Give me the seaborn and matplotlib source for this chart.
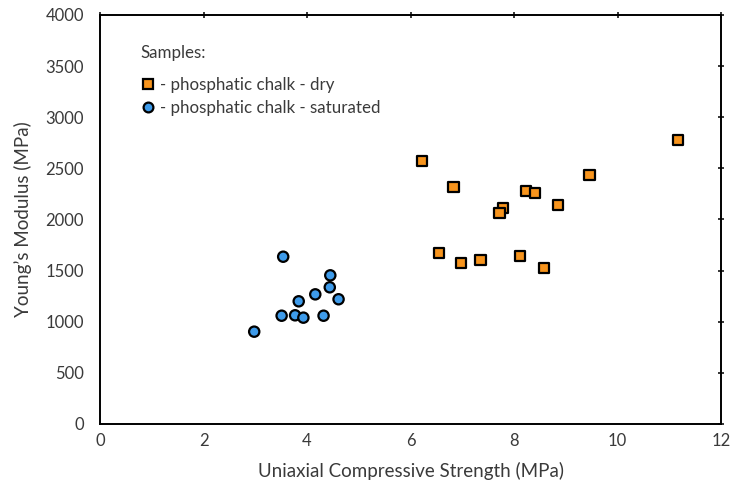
import numpy as np
import pandas as pd
import matplotlib
matplotlib.use("Agg")
import matplotlib.pyplot as plt
import seaborn as sns

# values
dry_ucs = [6.22, 6.83, 11.17, 9.46, 8.23, 8.40, 8.85, 7.79, 7.72, 6.55, 6.98, 7.35, 8.12, 8.58]
dry_e = [2569, 2318, 2777, 2432, 2279, 2256, 2139, 2112, 2066, 1669, 1575, 1601, 1646, 1526]
sat_ucs = [3.54, 4.45, 4.44, 4.16, 4.61, 3.84, 3.51, 3.77, 3.93, 4.32, 2.98]
sat_e = [1636, 1454, 1337, 1268, 1220, 1200, 1059, 1063, 1040, 1059, 903]

labels = ["- phosphatic chalk - dry", "- phosphatic chalk - saturated"]
x_ticks = [0, 2, 4, 6, 8, 10, 12]
y_ticks = list(range(0, 4001, 500))

df = pd.DataFrame({
    "ucs": dry_ucs + sat_ucs,
    "E": dry_e + sat_e,
    "sample": [labels[0]] * len(dry_ucs) + [labels[1]] * len(sat_ucs),
})

sns.set_style("white")
plt.rcParams["font.family"] = ["Lato", "DejaVu Sans"]
txt_col = "#3a3a3a"

fig = plt.figure(figsize=(7.33, 4.88), dpi=100)
ax_w = 621
ax = fig.add_axes([100 / 733, 64 / 488, ax_w / 733, 409 / 488])

sns.scatterplot(data=df, x="ucs", y="E", hue="sample", style="sample",
                palette={labels[0]: "#F7941D", labels[1]: "#3E9BEA"},
                markers={labels[0]: "s", labels[1]: "o"},
                s=55, edgecolor="black", linewidth=1.6, ax=ax, zorder=3)

ax.set_xlim(0, 12)
ax.set_ylim(0, 4000)
ax.set_xticks(x_ticks)
ax.set_yticks(y_ticks)
ax.set_xlabel("Uniaxial Compressive Strength (MPa)", fontsize=13.5, color=txt_col, labelpad=9)
ax.set_ylabel("Young\u2019s Modulus (MPa)", fontsize=13.5, color=txt_col, labelpad=10)
ax.tick_params(axis="both", direction="inout", length=5, width=1.1, colors="black",
               labelcolor=txt_col, labelsize=12, top=True, right=True,
               labeltop=False, labelright=False)
ax.tick_params(axis="x", pad=4)
ax.tick_params(axis="y", pad=9)
for sp in ax.spines.values():
    sp.set_color("black")
    sp.set_linewidth(1.4)

# legend title drawn as plain text, entries below it
ax.text(40 / ax_w, (424 - 53) / 409, "Samples:", transform=ax.transAxes,
        fontsize=12.2, color=txt_col, ha="left", va="center")
leg = ax.legend(loc="upper left", bbox_to_anchor=(40 / ax_w, (424 - 77) / 409),
                frameon=False, fontsize=12.2, borderpad=0, borderaxespad=0,
                handlelength=0.9, handletextpad=0.3, labelspacing=0.4, markerscale=0.95)
for t in leg.get_texts():
    t.set_color(txt_col)

fig.savefig("out.png", dpi=100)
